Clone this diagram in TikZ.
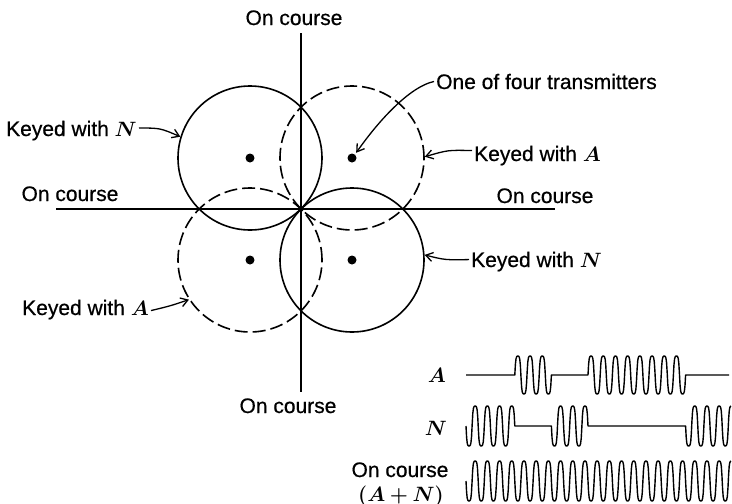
\documentclass[tikz,border=0pt]{standalone}
\usepackage{bm}
\usepackage{fontspec}
\setmainfont{Liberation Sans}[FakeBold=0.6]
\usetikzlibrary{arrows.meta}
\begin{document}
\begin{tikzpicture}[x=1pt,y=-1pt,
  lbl/.style={font=\fontsize{21}{25}\selectfont, inner sep=2pt},
  ring/.style={circle, draw, line width=1.6pt, minimum size=144pt, inner sep=0pt},
  dashring/.style={ring, dash pattern=on 13pt off 5pt},
  axisline/.style={line width=1.3pt},
  pointer/.style={line width=1.3pt, -{Straight Barb[length=7pt,width=9pt]}},
  wave/.style={line width=1.4pt, line join=round},
  tx/.style={circle, fill, inner sep=0pt, minimum size=9pt}]
\useasboundingbox (0,0) rectangle (732,504);

% axes
\coordinate (vT) at (301,33);
\coordinate (vB) at (301,392);
\coordinate (hL) at (56,209);
\coordinate (hR) at (555,209);
\draw[axisline] (vT) -- (vB);
\draw[axisline] (hL) -- (hR);

% coverage circles
\node[ring]     (cTL) at (250,158) {};
\node[dashring] (cTR) at (352,158) {};
\node[dashring] (cBL) at (250,260) {};
\node[ring]     (cBR) at (352,260) {};

% transmitters
\node[tx] (tTL) at (250,158) {};
\node[tx] (tTR) at (352,158) {};
\node[tx] (tBL) at (250,260) {};
\node[tx] (tBR) at (352,260) {};

% labels
\node[lbl, anchor=base] (ocT) at (294,25) {On course};
\node[lbl, anchor=base] (ocB) at (288,413) {On course};
\node[lbl, anchor=base] (ocL) at (70,201) {On course};
\node[lbl, anchor=base] (ocR) at (545,203) {On course};
\node[lbl, anchor=base east] (kN1) at (139,136) {Keyed with $\bm{N}$};
\node[lbl, anchor=base west] (kA1) at (472,161) {Keyed with $\bm{A}$};
\node[lbl, anchor=base west] (kN2) at (469,267) {Keyed with $\bm{N}$};
\node[lbl, anchor=base east] (kA2) at (151,315) {Keyed with $\bm{A}$};
\node[lbl, anchor=base west] (one) at (434,89) {One of four transmitters};

% pointers
\draw[pointer] ([yshift=2.5pt]kN1.east) .. controls (160,128) .. (cTL.163);
\draw[pointer, shorten >=2pt] (one.west) .. controls (412,86) and (382,116) .. (tTR.50);
\draw[pointer] ([yshift=5pt]kA1.west) .. controls (448,150) .. (cTR.1);
\draw[pointer] ([yshift=2pt]kN2.west) .. controls (445,260) .. (cBR.4);
\draw[pointer] ([yshift=-1pt]kA2.east) .. controls (170,306) .. (cBL.213);

% waveform labels
\node[lbl, anchor=base] (wA) at (437,382) {$\bm{A}$};
\node[lbl, anchor=base] (wN) at (436,435) {$\bm{N}$};
\node[lbl, anchor=base] (wOC) at (400,477) {On course};
\node[lbl, anchor=base] (wAN) at (401,501) {$\bm{(A+N)}$};

% waveform A  (period 12.2, 360/12.2 = 29.508)
\draw[wave] (466,375) -- (514.8,375)
  -- plot[domain=514.8:551.4, samples=60] (\x,{375-19*tanh(2*sin(29.508*(\x-514.8)))/0.964})
  -- (588,375)
  -- plot[domain=588:685.6, samples=160] (\x,{375-19*tanh(2*sin(29.508*(\x-588)))/0.964})
  -- (729,375);

% waveform N
\draw[wave] plot[domain=466:514.8, samples=80] (\x,{426+20*tanh(2*sin(29.508*(\x-466)))/0.964})
  -- (551.4,426)
  -- plot[domain=551.4:588, samples=60] (\x,{426+20*tanh(2*sin(29.508*(\x-551.4)))/0.964})
  -- (685.6,426)
  -- plot[domain=685.6:731, samples=80] (\x,{426+20*tanh(2*sin(29.508*(\x-685.6)))/0.964});

% waveform A+N
\draw[wave] plot[domain=466:731, samples=440] (\x,{481+20*tanh(2*sin(29.508*(\x-466)))/0.964});
\end{tikzpicture}
\end{document}
